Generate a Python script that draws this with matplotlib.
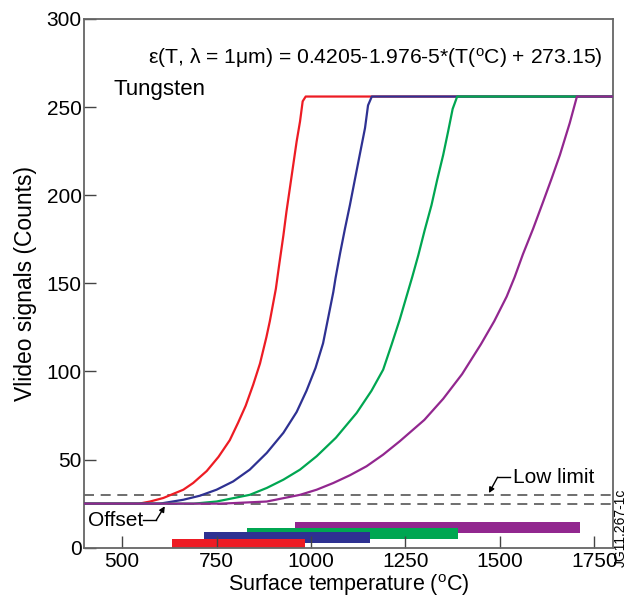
import matplotlib
matplotlib.use("Agg")
import matplotlib.pyplot as plt

plt.rcParams['font.family'] = ['Liberation Sans', 'DejaVu Sans']
plt.rcParams['mathtext.fontset'] = 'custom'
plt.rcParams['mathtext.rm'] = 'Liberation Sans'
plt.rcParams['mathtext.it'] = 'Liberation Sans:italic'

# ---- data ----
red_T = [400, 545, 574, 609, 662, 688, 724, 755, 785, 807, 827, 847, 865, 882, 891,
         907, 915, 927, 935, 944, 953, 962, 971, 978, 986, 1800]
red_V = [25, 25, 26.2, 28.2, 32.9, 36.7, 43.5, 51.5, 61.0, 70.9, 80.5, 92.5, 104.5, 119.5, 128.5,
         146.9, 159.3, 177.3, 190.6, 203.9, 217.2, 230.5, 241.9, 253.3, 256, 256]

blue_T = [400, 600, 662, 706, 750, 794, 838, 883, 927, 962, 988, 1012, 1032, 1046, 1059,
          1065, 1077, 1090, 1103, 1116, 1129, 1143, 1151, 1161, 1800]
blue_V = [25, 25, 27.2, 29.5, 32.9, 37.6, 44.3, 53.8, 65.2, 77.0, 89.0, 102.0, 116.0, 131.0, 145.0,
          153.0, 167.0, 181.1, 194.4, 208.7, 222.9, 238.1, 251.0, 256, 256]

green_T = [400, 690, 750, 838, 883, 927, 971, 1015, 1066, 1121, 1160, 1191, 1213, 1235, 1251,
           1268, 1284, 1301, 1319, 1334, 1350, 1363, 1375, 1387, 1800]
green_V = [25, 25, 26.2, 30.0, 33.9, 38.6, 44.3, 51.9, 62.4, 76.5, 89.0, 101.0, 115.0, 129.5, 141.2,
           153.6, 165.9, 180.2, 194.4, 208.7, 222.9, 236.2, 249.0, 256, 256]

purple_T = [400, 760, 794, 883, 971, 1015, 1059, 1103, 1147, 1191, 1235, 1300, 1350, 1400, 1450,
            1485, 1518, 1539, 1561, 1588, 1614, 1637, 1659, 1685, 1704, 1800]
purple_V = [25, 25, 25.3, 26.2, 30.0, 32.9, 36.7, 41.1, 46.2, 52.8, 60.4, 72.5, 84.5, 98.5, 115.5,
            128.5, 142.5, 153.5, 166.5, 181.0, 196.0, 209.5, 222.9, 241.0, 256, 256]

offset_level = 25
low_limit = 30

# temperature ranges (bars): start, end, bottom, height
range_start = [632, 716, 830, 957]
range_end = [983, 1156, 1388, 1711]
range_bottom = [0, 2.9, 5.0, 8.5]
range_height = [5.0, 6.1, 6.4, 6.1]

colors = ['#ED1C24', '#2E3192', '#00A651', '#92278F']

xticks = [500, 750, 1000, 1250, 1500, 1750]
yticks = [0, 50, 100, 150, 200, 250, 300]

# ---- figure ----
fig = plt.figure(figsize=(6.27, 6.01), dpi=100)
ax = fig.add_axes([0.1345, 0.0887, 0.978 - 0.1345, 0.9684 - 0.0887])

# bars: purple lowest, red on top
for i in [3, 2, 1, 0]:
    ax.bar(range_start[i], range_height[i], width=range_end[i] - range_start[i],
           bottom=range_bottom[i], align='edge', color=colors[i], linewidth=0,
           zorder=1 + (3 - i) * 0.01)

ax.axhline(low_limit, color='#555555', lw=1.2, dashes=(6, 4), zorder=1.8)
ax.axhline(offset_level, color='#555555', lw=1.2, dashes=(6, 4), zorder=1.8)

for T, V, c in zip([red_T, blue_T, green_T, purple_T],
                   [red_V, blue_V, green_V, purple_V], colors):
    ax.plot(T, V, color=c, lw=1.6, zorder=3, solid_joinstyle='round')

ax.set_xlim(400, 1800)
ax.set_ylim(0, 300)
ax.set_xticks(xticks)
ax.set_yticks(yticks)
ax.tick_params(axis='both', direction='in', length=8.5, width=1.0, color='#444444',
               labelsize=15, labelcolor='black')
ax.tick_params(axis='y', pad=2)
ax.tick_params(axis='x', pad=3)
for s in ax.spines.values():
    s.set_color('#666666')
    s.set_linewidth(1.3)

ax.set_xlabel('Surface temperature ($^{\\rm o}$C)', fontsize=15.5, labelpad=1)
ax.set_ylabel('Vlideo signals (Counts)', fontsize=16.5, labelpad=7)

ax.text(568, 278, 'ε(T, λ = 1μm) = 0.4205-1.976-5*(T($^{\\rm o}$C) + 273.15)',
        fontsize=15.2, va='center', ha='left')
ax.text(476, 260, 'Tungsten', fontsize=16, va='center', ha='left')

# Low limit annotation
ax.text(1536, 40, 'Low limit', fontsize=15, va='center', ha='left')
ax.plot([1528, 1494], [40, 40], color='black', lw=1.0)
ax.annotate('', xy=(1471, 31), xytext=(1494, 40),
            arrowprops=dict(arrowstyle='-|>', color='black', lw=1.0,
                            mutation_scale=8, shrinkA=0, shrinkB=0))

# Offset annotation
ax.text(410, 15.5, 'Offset', fontsize=15, va='center', ha='left')
ax.plot([556, 590], [15.5, 15.5], color='black', lw=1.0)
ax.annotate('', xy=(613, 23.5), xytext=(590, 15.5),
            arrowprops=dict(arrowstyle='-|>', color='black', lw=1.0,
                            mutation_scale=8, shrinkA=0, shrinkB=0))

fig.text(0.99, 0.121, 'JG11.267-1c', rotation=90, fontsize=10,
         ha='center', va='center')

fig.savefig('out.png', dpi=100)
